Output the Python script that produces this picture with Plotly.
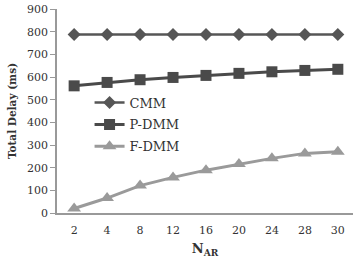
import plotly.graph_objects as go

categories = ["2", "4", "8", "12", "16", "20", "24", "28", "30"]
cmm = [788, 788, 788, 788, 788, 788, 788, 788, 788]
p_dmm = [561, 576, 588, 598, 607, 616, 623, 629, 634]
f_dmm = [20, 66, 121, 157, 189, 216, 241, 263, 270]
y_ticks = [0, 100, 200, 300, 400, 500, 600, 700, 800, 900]

font_family = "DejaVu Serif"

fig = go.Figure()
fig.add_trace(go.Scatter(x=categories, y=cmm, name="CMM", mode="lines+markers",
                         line=dict(color="#565656", width=2.5),
                         marker=dict(symbol="diamond", size=10, color="#565656"),
                         legendgroup="a"))
fig.add_trace(go.Scatter(x=categories, y=p_dmm, name="P-DMM", mode="lines+markers",
                         line=dict(color="#4a4a4a", width=3),
                         marker=dict(symbol="square", size=11, color="#4a4a4a"),
                         legendgroup="b"))
fig.add_trace(go.Scatter(x=categories, y=f_dmm, name="F-DMM", mode="lines+markers",
                         line=dict(color="#9a9a9a", width=3),
                         marker=dict(symbol="triangle-up", size=12, color="#9a9a9a"),
                         legendgroup="c"))

fig.update_layout(
    width=353, height=264,
    margin=dict(l=57, r=0, t=9, b=51),
    paper_bgcolor="white", plot_bgcolor="white",
    font=dict(family=font_family, size=11, color="#333333"),
    showlegend=True,
    legend=dict(x=0.11, y=0.615, xanchor="left", yanchor="top",
                bgcolor="rgba(0,0,0,0)", font=dict(size=13, color="#333333"),
                traceorder="grouped", tracegroupgap=2, itemwidth=30),
    xaxis=dict(type="category", range=[-0.52, 8.46], showline=True, linecolor="#999999",
               linewidth=1.5, ticks="outside", ticklen=6, tickcolor="rgba(0,0,0,0)",
               showgrid=False, zeroline=False,
               tickfont=dict(size=11),
               title=dict(text="<b>N<sub>AR</sub></b>", font=dict(size=13), standoff=8)),
    yaxis=dict(range=[0, 900], tickvals=y_ticks, showline=True, linecolor="#999999",
               linewidth=1.5, ticks="outside", ticklen=5, tickcolor="#999999",
               showgrid=False, zeroline=False, tickfont=dict(size=11),
               title=dict(text="<b>Total Delay (ms)</b>", font=dict(size=10.5), standoff=8)),
)

fig.write_html("out.html")
